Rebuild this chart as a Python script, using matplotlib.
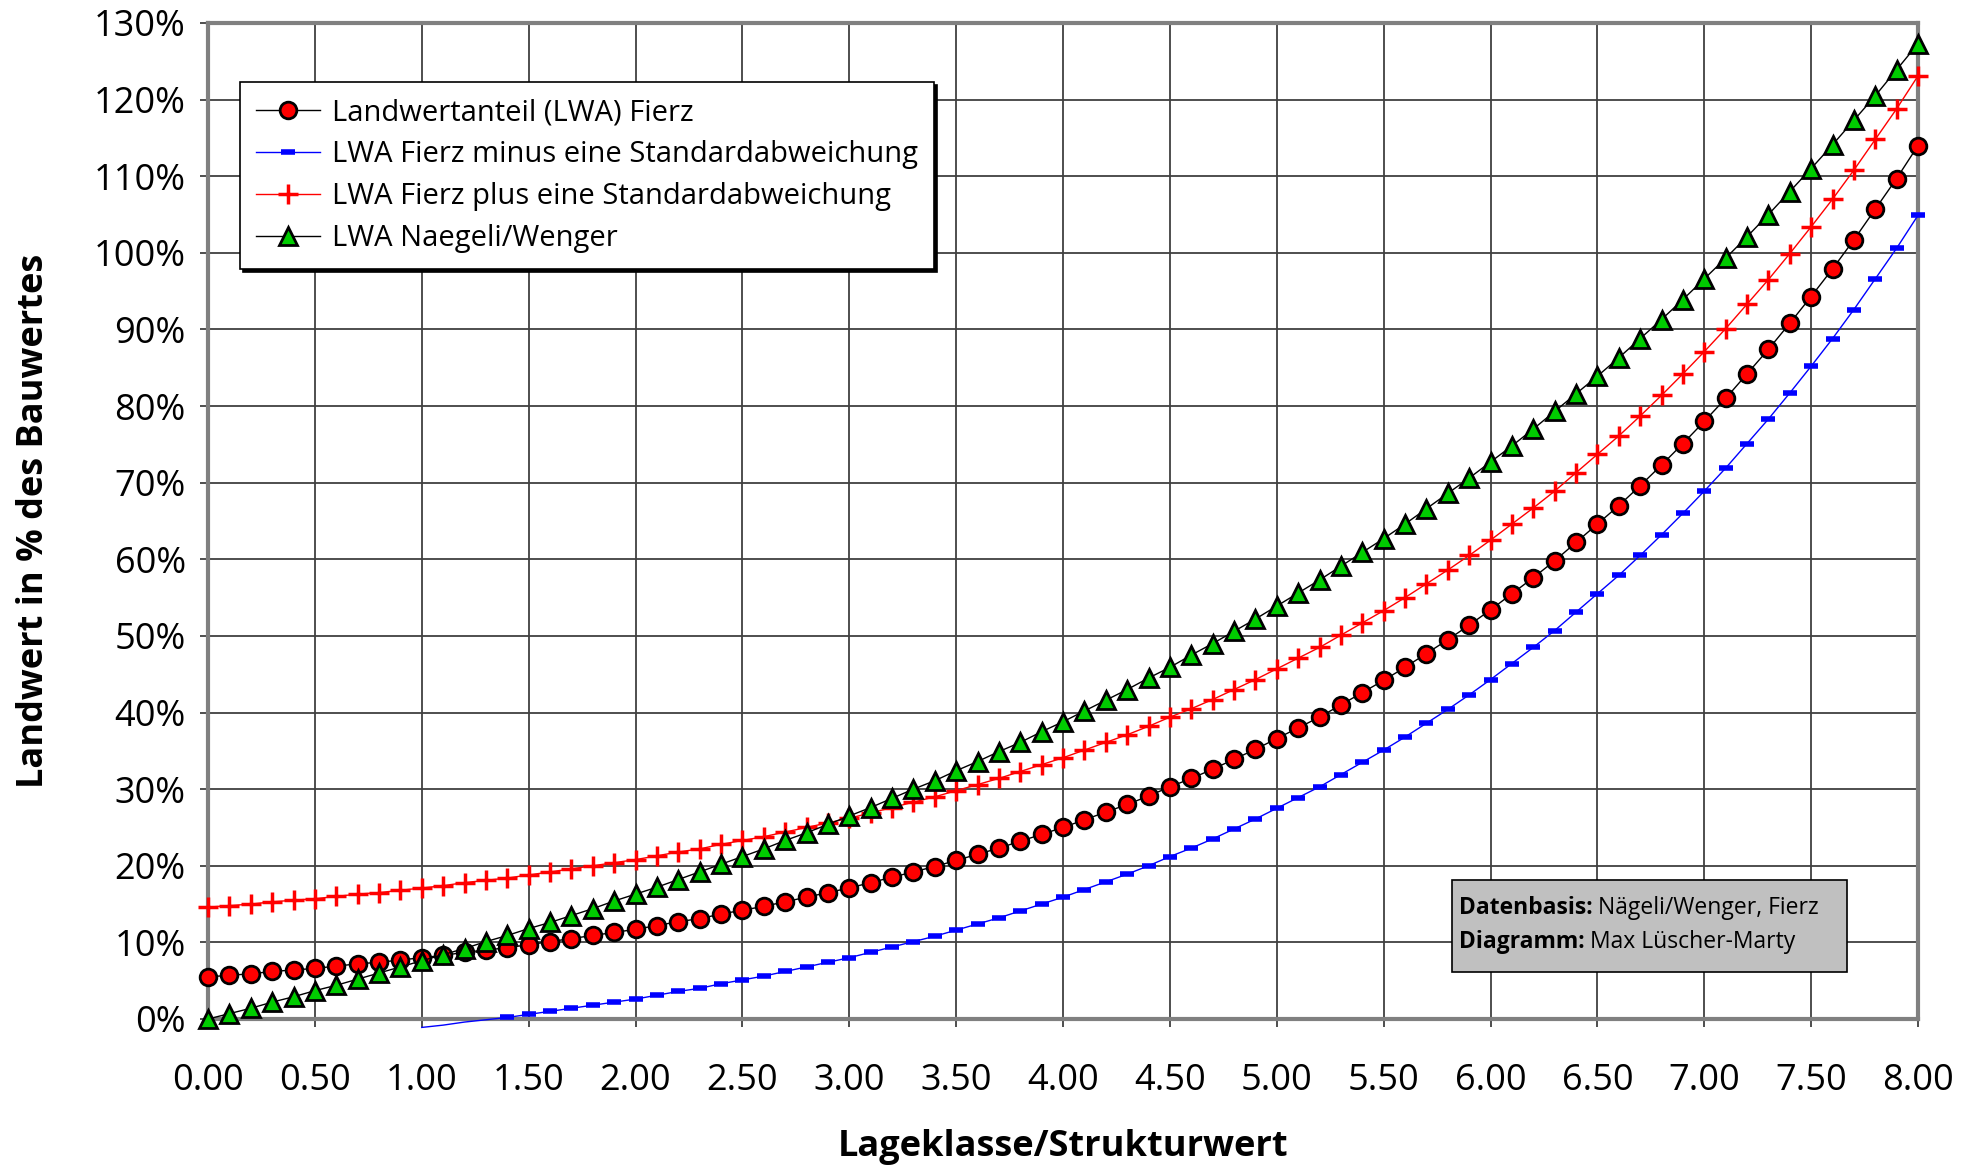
import matplotlib
matplotlib.use('Agg')
import matplotlib.pyplot as plt
from matplotlib.patches import Rectangle
from matplotlib.ticker import MultipleLocator, FuncFormatter

plt.rcParams['font.family'] = ['Open Sans', 'Noto Sans', 'DejaVu Sans']

# Lageklasse 0.0 ... 8.0 in Schritten von 0.1
lageklasse = [round(i * 0.1, 1) for i in range(81)]

# Landwertanteil (LWA) Fierz, in %
lwa_fierz = [
    5.5, 5.7, 5.9, 6.2, 6.4, 6.6, 6.9, 7.2, 7.4, 7.7,
    8.0, 8.3, 8.7, 9.0, 9.3, 9.7, 10.1, 10.5, 10.9, 11.3,
    11.7, 12.2, 12.7, 13.1, 13.7, 14.2, 14.7, 15.3, 15.9, 16.5,
    17.1, 17.8, 18.5, 19.2, 19.9, 20.7, 21.5, 22.3, 23.2, 24.1,
    25.0, 26.0, 27.0, 28.0, 29.1, 30.3, 31.4, 32.6, 33.9, 35.2,
    36.6, 38.0, 39.4, 41.0, 42.6, 44.2, 45.9, 47.7, 49.5, 51.4,
    53.4, 55.5, 57.6, 59.8, 62.2, 64.6, 67.0, 69.6, 72.3, 75.1,
    78.0, 81.0, 84.2, 87.4, 90.8, 94.3, 97.9, 101.7, 105.7, 109.7,
    114.0,
]

# LWA Fierz minus eine Standardabweichung (ab Lageklasse 1.0)
lwa_minus_x = lageklasse[10:]
lwa_minus = [
    -1.1, -0.8, -0.4, -0.1, 0.2, 0.6, 1.0, 1.4, 1.8, 2.2,
    2.6, 3.1, 3.6, 4.0, 4.6, 5.1, 5.6, 6.2, 6.8, 7.4,
    8.0, 8.7, 9.4, 10.1, 10.8, 11.6, 12.4, 13.2, 14.1, 15.0,
    15.9, 16.9, 17.9, 18.9, 20.0, 21.2, 22.3, 23.5, 24.8, 26.1,
    27.5, 28.9, 30.3, 31.9, 33.5, 35.1, 36.8, 38.6, 40.4, 42.3,
    44.3, 46.4, 48.5, 50.7, 53.1, 55.5, 57.9, 60.5, 63.2, 66.0,
    68.9, 71.9, 75.1, 78.3, 81.7, 85.2, 88.8, 92.6, 96.6, 100.6,
    104.9,
]

# LWA Fierz plus eine Standardabweichung
lwa_plus = [
    14.6, 14.8, 15.0, 15.3, 15.5, 15.7, 16.0, 16.3, 16.5, 16.8,
    17.1, 17.4, 17.8, 18.1, 18.4, 18.8, 19.2, 19.6, 20.0, 20.4,
    20.8, 21.3, 21.8, 22.2, 22.8, 23.3, 23.8, 24.4, 25.0, 25.6,
    26.2, 26.9, 27.6, 28.3, 29.0, 29.8, 30.6, 31.4, 32.3, 33.2,
    34.1, 35.1, 36.1, 37.1, 38.2, 39.4, 40.5, 41.7, 43.0, 44.3,
    45.7, 47.1, 48.5, 50.1, 51.7, 53.3, 55.0, 56.8, 58.6, 60.5,
    62.5, 64.6, 66.7, 68.9, 71.3, 73.7, 76.1, 78.7, 81.4, 84.2,
    87.1, 90.1, 93.3, 96.5, 99.9, 103.4, 107.0, 110.8, 114.8, 118.8,
    123.1,
]

# LWA Naegeli/Wenger
lwa_naegeli = [
    0.0, 0.7, 1.4, 2.2, 2.9, 3.7, 4.4, 5.2, 6.0, 6.8,
    7.6, 8.4, 9.2, 10.1, 10.9, 11.8, 12.6, 13.5, 14.4, 15.4,
    16.3, 17.2, 18.2, 19.2, 20.2, 21.2, 22.2, 23.3, 24.3, 25.4,
    26.5, 27.6, 28.8, 30.0, 31.1, 32.4, 33.6, 34.9, 36.1, 37.5,
    38.8, 40.2, 41.6, 43.0, 44.5, 45.9, 47.5, 49.0, 50.6, 52.2,
    53.9, 55.6, 57.3, 59.1, 60.9, 62.7, 64.6, 66.6, 68.6, 70.6,
    72.7, 74.8, 77.0, 79.3, 81.6, 83.9, 86.3, 88.8, 91.3, 93.9,
    96.6, 99.3, 102.1, 105.0, 108.0, 111.0, 114.1, 117.3, 120.5, 123.9,
    127.3,
]

fig = plt.figure(figsize=(19.8, 11.7), dpi=100)
ax = fig.add_axes([208 / 1980, 1 - 1019 / 1170, 1710 / 1980, 996 / 1170])

grid_col = '#404040'
ax.set_xlim(0, 8)
ax.set_ylim(0, 130)
ax.xaxis.set_major_locator(MultipleLocator(0.5))
ax.yaxis.set_major_locator(MultipleLocator(10))
ax.xaxis.set_major_formatter(FuncFormatter(lambda v, p: f'{v:.2f}'))
ax.yaxis.set_major_formatter(FuncFormatter(lambda v, p: f'{v:.0f}%'))
ax.grid(True, color=grid_col, linewidth=1.3)
ax.set_axisbelow(True)
for s in ax.spines.values():
    s.set_color('#808080')
    s.set_linewidth(3)
ax.tick_params(axis='both', direction='out', length=6, width=1.3, color=grid_col,
               labelsize=26)
ax.tick_params(axis='x', pad=26)
ax.tick_params(axis='y', pad=10)

# Fierz
ax.plot(lageklasse, lwa_fierz, color='black', linewidth=1, marker='o',
        markersize=12, markerfacecolor='red', markeredgecolor='black',
        markeredgewidth=2, clip_on=False, zorder=4,
        label='Landwertanteil (LWA) Fierz')

# minus Standardabweichung: Linie läuft unter 0%, Marker erst ab 0%
marks = [i for i, v in enumerate(lwa_minus) if v >= 0]
ax.plot(lwa_minus_x, lwa_minus, color='blue', linewidth=1, marker='_',
        markersize=10, markeredgewidth=4, markeredgecolor='blue',
        markevery=marks, clip_on=False, zorder=3,
        label='LWA Fierz minus eine Standardabweichung')

# plus Standardabweichung
ax.plot(lageklasse, lwa_plus, color='red', linewidth=1, marker='+',
        markersize=15, markeredgewidth=2.5, markeredgecolor='red',
        clip_on=False, zorder=3,
        label='LWA Fierz plus eine Standardabweichung')

# Naegeli/Wenger
ax.plot(lageklasse, lwa_naegeli, color='black', linewidth=1, marker='^',
        markersize=13, markerfacecolor='#00cc00', markeredgecolor='black',
        markeredgewidth=2, clip_on=False, zorder=5,
        label='LWA Naegeli/Wenger')

leg = ax.legend(loc='upper left', bbox_to_anchor=(240 / 1980, 1 - 82 / 1170),
                bbox_transform=fig.transFigure, borderaxespad=0, fontsize=21,
                fancybox=False, edgecolor='black', framealpha=1,
                shadow={'color': 'black', 'alpha': 1}, handlelength=2.2,
                handletextpad=0.4, borderpad=0.55, labelspacing=0.45)
leg.get_frame().set_linewidth(1.2)
leg.set_zorder(7)

# Quellenbox unten rechts
box = Rectangle((0.7275, 0.047), 0.231, 0.093, transform=ax.transAxes,
                facecolor='#c0c0c0', edgecolor='black', linewidth=1.2, zorder=6)
ax.add_patch(box)
credits = [('Datenbasis:', ' Nägeli/Wenger, Fierz', 0.1114),
           ('Diagramm:', ' Max Lüscher-Marty', 0.0773)]
for bold, rest, ypos in credits:
    tb = ax.text(0.7315, ypos, bold, transform=ax.transAxes, fontsize=16.5,
                 fontweight='bold', ha='left', va='center', zorder=7)
    ax.annotate(rest, xy=(1, 0), xycoords=tb, fontsize=16.5, ha='left',
                va='bottom', zorder=7)

fig.text(1063 / 1980, 1 - 1147 / 1170, 'Lageklasse/Strukturwert',
         fontsize=26, fontweight='bold', ha='center', va='center')
fig.text(34 / 1980, 1 - 521 / 1170, 'Landwert in % des Bauwertes',
         fontsize=26, fontweight='bold', ha='center', va='center', rotation=90)

fig.savefig('out.png', dpi=100)
